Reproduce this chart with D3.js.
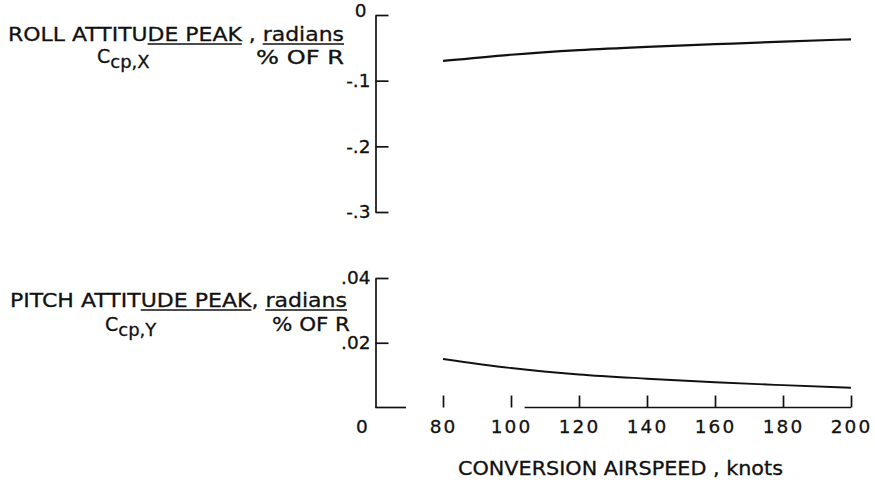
<!DOCTYPE html>
<html>
<head>
<meta charset="utf-8">
<script src="https://cdn.jsdelivr.net/npm/d3@7"></script>
<style>
body { margin: 0; background: #fff; }
text { font-family: "DejaVu Sans", sans-serif; fill: #111; stroke: #111; stroke-width: 0.3px; }
</style>
</head>
<body>
<div id="chart"></div>
<script>
var speeds = [80, 100, 120, 140, 160, 180, 200];
var rollPeak = [-0.070, -0.0605, -0.0535, -0.0485, -0.0445, -0.0405, -0.037];
var pitchPeak = [0.0150, 0.0122, 0.0102, 0.0089, 0.0078, 0.0069, 0.0061];
var rollTicks = [0, -0.1, -0.2, -0.3];
var rollTickLabels = ["0", "-.1", "-.2", "-.3"];
var pitchTicks = [0.02, 0.04];
var pitchTickLabels = [".02", ".04"];

var width = 875, height = 484;
var axisX = 375.5;
var font = "DejaVu Sans, sans-serif";

var svg = d3.select("#chart").append("svg")
	.attr("width", width)
	.attr("height", height);

var x = d3.scaleLinear()
	.domain([80, 200])
	.range([443, 851]);

var yRoll = d3.scaleLinear()
	.domain([-0.3, 0])
	.range([212, 15]);

var yPitch = d3.scaleLinear()
	.domain([0, 0.04])
	.range([407.5, 278]);

function styleAxis(g){
	g.attr("font-family", null).attr("font-size", null);
	g.selectAll("path, line").attr("stroke", "#111").attr("stroke-width", 1.7);
	g.selectAll("text")
		.style("font-family", font)
		.style("font-size", "18.5px")
		.attr("fill", "#111");
}

// roll panel axis
var rollAxis = svg.append("g")
		.attr("transform", "translate(" + axisX + ",0)")
		.call(d3.axisLeft(yRoll)
			.tickValues(rollTicks)
			.tickSizeInner(-13)
			.tickSizeOuter(0)
			.tickPadding(5)
			.tickFormat(function(d,i){ return rollTickLabels[i]; }))
		.call(styleAxis);
// the "0" sits a bit higher and left of the others
rollAxis.selectAll("text").filter(function(d){ return d === 0; })
	.attr("dy", "0.1em").attr("x", -9);

// pitch panel axis
svg.append("g")
		.attr("transform", "translate(" + axisX + ",0)")
		.call(d3.axisLeft(yPitch)
			.tickValues(pitchTicks)
			.tickSizeInner(-13)
			.tickSizeOuter(0)
			.tickPadding(5)
			.tickFormat(function(d,i){ return pitchTickLabels[i]; }))
		.call(styleAxis);

// x axis, ticks pointing up, baseline broken
var xAxis = svg.append("g")
		.attr("transform", "translate(0," + yPitch(0) + ")")
		.call(d3.axisBottom(x)
			.tickValues(speeds)
			.tickSizeInner(-12)
			.tickSizeOuter(0)
			.tickPadding(12));
xAxis.select(".domain").remove();
xAxis.call(styleAxis);
xAxis.selectAll("text").style("letter-spacing", "2px");

svg.append("line")
	.attr("x1", axisX).attr("x2", 406)
	.attr("y1", yPitch(0)).attr("y2", yPitch(0))
	.attr("stroke", "#111").attr("stroke-width", 1.7);
svg.append("line")
	.attr("x1", x(104)).attr("x2", x(200))
	.attr("y1", yPitch(0)).attr("y2", yPitch(0))
	.attr("stroke", "#111").attr("stroke-width", 1.4);

svg.append("text")
	.attr("x", 362)
	.attr("y", yPitch(0) + 12)
	.attr("dy", "0.71em")
	.attr("text-anchor", "middle")
	.style("font-size", "18.5px")
	.text("0");

// curves
var rollLine = d3.line()
	.x(function(d,i){ return x(speeds[i]); })
	.y(function(d){ return yRoll(d); })
	.curve(d3.curveMonotoneX);
var pitchLine = d3.line()
	.x(function(d,i){ return x(speeds[i]); })
	.y(function(d){ return yPitch(d); })
	.curve(d3.curveMonotoneX);

svg.append("path")
	.attr("d", rollLine(rollPeak))
	.attr("fill", "none")
	.attr("stroke", "#111")
	.attr("stroke-width", 2.2);
svg.append("path")
	.attr("d", pitchLine(pitchPeak))
	.attr("fill", "none")
	.attr("stroke", "#111")
	.attr("stroke-width", 1.9);

// titles with underlines
function title(str, xPos, yPos, len, underlines){
	var t = svg.append("text")
		.attr("x", xPos)
		.attr("y", yPos)
		.attr("textLength", len)
		.attr("lengthAdjust", "spacingAndGlyphs")
		.style("font-size", "20px")
		.text(str);
	var node = t.node();
	underlines.forEach(function(u){
		var a = str.indexOf(u);
		var b = a + u.length - 1;
		var x1 = node.getStartPositionOfChar(a).x;
		var x2 = node.getEndPositionOfChar(b).x;
		svg.append("line")
			.attr("x1", x1).attr("x2", x2)
			.attr("y1", yPos + 3).attr("y2", yPos + 3)
			.attr("stroke", "#111").attr("stroke-width", 1.4);
	});
}

title("ROLL ATTITUDE PEAK , radians", 8, 41, 336, ["DE PEAK", "radians"]);
title("PITCH ATTITUDE PEAK, radians", 10, 307, 337, ["UDE PEAK", "radians"]);

function ofR(xEnd, yPos, len){
	svg.append("text")
		.attr("x", xEnd - len).attr("y", yPos)
		.attr("textLength", len)
		.attr("lengthAdjust", "spacingAndGlyphs")
		.style("font-size", "19px")
		.text("% OF R");
}
ofR(344, 64, 88);
ofR(350, 331, 78);

function subLabel(sub, xPos, yPos){
	var t = svg.append("text")
		.attr("x", xPos).attr("y", yPos)
		.style("font-size", "19px");
	t.append("tspan").text("C");
	t.append("tspan").attr("dy", 5).style("font-size", "18px").text(sub);
}
subLabel("cp,X", 97, 63);
subLabel("cp,Y", 105, 331);

svg.append("text")
	.attr("x", 458)
	.attr("y", 475)
	.attr("textLength", 325)
	.attr("lengthAdjust", "spacingAndGlyphs")
	.style("font-size", "19px")
	.text("CONVERSION AIRSPEED , knots");
</script>
</body>
</html>
